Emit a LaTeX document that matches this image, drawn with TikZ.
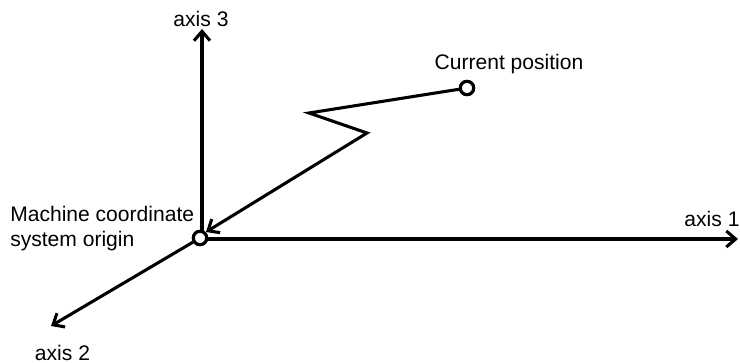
\documentclass[tikz,border=0pt]{standalone}
\usepackage{fontspec}
\setmainfont{Liberation Sans}
\usetikzlibrary{arrows.meta}
\tikzset{
  px/.style={x=0.75pt,y=-0.75pt},
  conn/.style={line width=2.3pt,line join=miter,black},
  tip/.style={conn,-{Straight Barb[length=7pt,width=12pt,line width=2.3pt]}},
  dot/.style={circle,draw=black,fill=white,line width=2.3pt,inner sep=0pt,minimum size=10pt},
  lbl/.style={inner sep=0pt,font=\fontsize{15.8pt}{19pt}\selectfont,text=black},
}
\begin{document}
\begin{tikzpicture}[px]
\useasboundingbox (0,0) rectangle (740,363);
\coordinate (a1) at (738,239);
\coordinate (a2) at (51,326);
\coordinate (a3) at (202,29);
\coordinate (o1) at (200,239);
\coordinate (o3) at (202,232);
\coordinate (z1) at (309,113);
\coordinate (z2) at (367,133);
\coordinate (tipo) at (206,232);
\node[dot] (cur) at (467,88) {};
\node[dot] (org) at (200,238) {};
\draw[tip] (o1) -- (a1);
\draw[tip] (org) -- (a2);
\draw[tip] (o3) -- (a3);
\draw[tip] (cur) -- (z1) -- (z2) -- (tipo);
\node[dot] at (org) {};
\node[dot] at (cur) {};
\node[lbl,anchor=base] (l3) at (201,27) {axis 3};
\node[lbl,anchor=base] (lc) at (509,70) {Current position};
\node[lbl,anchor=base] (l1) at (712,227) {axis 1};
\node[lbl,anchor=base] (l2) at (62.5,360.5) {axis 2};
\node[lbl,anchor=base west] (m1) at (10,222) {Machine coordinate};
\node[lbl,anchor=base west] (m2) at (10,246.5) {system origin};
\end{tikzpicture}
\end{document}
